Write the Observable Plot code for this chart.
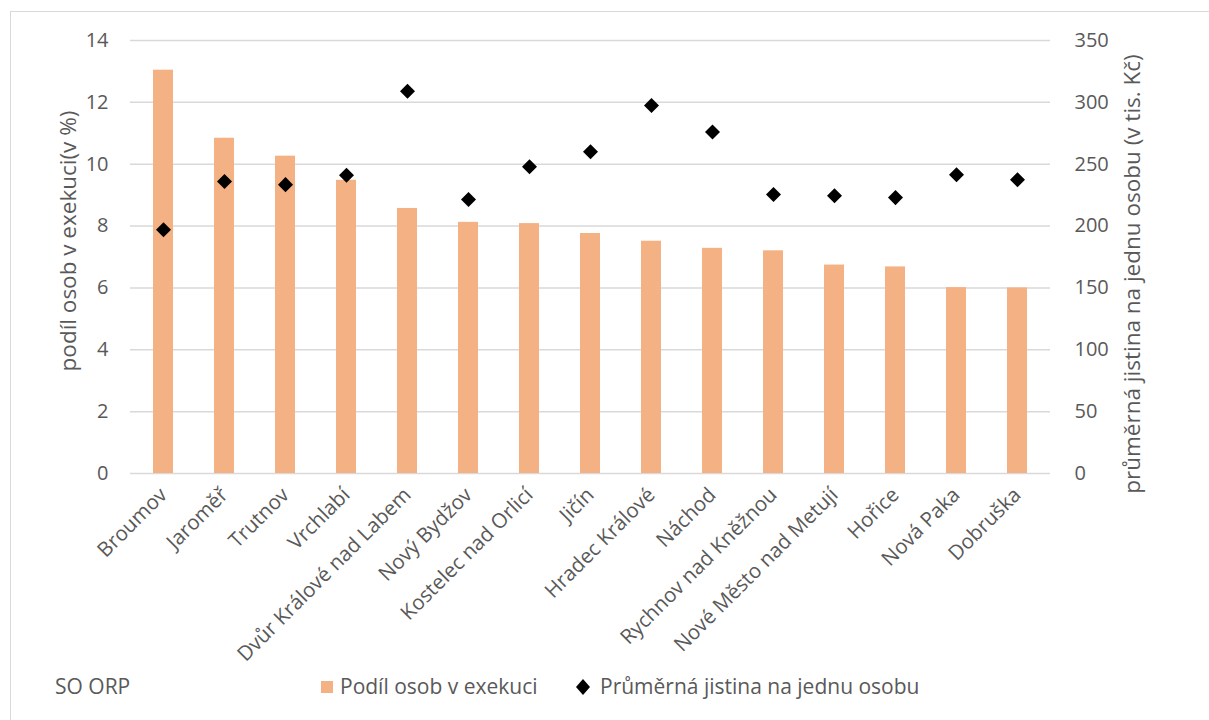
<!DOCTYPE html>
<html>
<head>
<meta charset="utf-8">
<script src="https://cdn.jsdelivr.net/npm/d3@7"></script>
<script src="https://cdn.jsdelivr.net/npm/@observablehq/plot@0.6"></script>
<style>
  html, body { margin: 0; padding: 0; background: #fff; }
  body { width: 1209px; height: 720px; position: relative; overflow: hidden; }
  #border { position: absolute; left: 10px; top: 11px; width: 1220px; height: 720px; border: 1px solid #D9D9D9; box-sizing: border-box; pointer-events: none; }
  #chart { position: absolute; left: 0; top: 0; }
  #below { position: absolute; left: 0; top: 672px; width: 1209px; height: 48px; font-family: "Open Sans", sans-serif; color: #595959; font-size: 21px; }
  .lbl { position: absolute; white-space: nowrap; line-height: 1; }
</style>
</head>
<body>
<div id="chart"></div>
<div id="below">
  <div class="lbl" style="left:55px; top:4px;">SO ORP</div>
  <div class="lbl" style="left:321px; top:9px; width:12px; height:12px; background:#F4B183;"></div>
  <div class="lbl" style="left:340px; top:4px;">Podíl osob v exekuci</div>
  <svg class="lbl" style="left:576px; top:7px;" width="14" height="16"><path d="M7 0 L14 8 L7 16 L0 8 Z" fill="#000"/></svg>
  <div class="lbl" style="left:600px; top:4px;">Průměrná jistina na jednu osobu</div>
</div>
<div id="border"></div>
<script>
const categories = ["Broumov", "Jaroměř", "Trutnov", "Vrchlabí", "Dvůr Králové nad Labem", "Nový Bydžov", "Kostelec nad Orlicí", "Jičín", "Hradec Králové", "Náchod", "Rychnov nad Kněžnou", "Nové Město nad Metují", "Hořice", "Nová Paka", "Dobruška"];
const podil = [13.04, 10.84, 10.26, 9.48, 8.57, 8.12, 8.08, 7.76, 7.51, 7.28, 7.2, 6.74, 6.68, 6.01, 6.0];
const jistina = [197, 236, 233.5, 241, 309, 221.5, 248, 260, 297.5, 276, 225.5, 224.5, 223, 241.5, 237.5];
const leftTicks = [0, 2, 4, 6, 8, 10, 12, 14];
const rightTicks = [0, 50, 100, 150, 200, 250, 300, 350];
const leftTitle = "podíl osob v exekuci(v %)";
const rightTitle = "průměrná jistina na jednu osobu (v tis. Kč)";

const ratio = 350 / 14;
const data = categories.map((c, i) => ({name: c, podil: podil[i], jistina: jistina[i]}));

const font = "'Open Sans', sans-serif";
const grey = "#595959";

const chart = Plot.plot({
  width: 1209,
  height: 672,
  marginLeft: 130,
  marginRight: 159,
  marginTop: 40,
  marginBottom: 199,
  style: { fontFamily: font, fontSize: "20px", color: grey, background: "transparent" },
  x: { domain: categories, paddingInner: 0.68, paddingOuter: 0.34 },
  y: { domain: [0, 14] },
  marks: [
    Plot.gridY(leftTicks, { stroke: "#D9D9D9", strokeOpacity: 1, strokeWidth: 1.5 }),
    Plot.barY(data, { x: "name", y: "podil", fill: "#F4B183" }),
    Plot.dot(data, { x: "name", y: d => d.jistina / ratio, symbol: "square", rotate: 45, r: 6, fill: "#000", stroke: null }),
    Plot.axisY(leftTicks, { anchor: "left", tickSize: 0, tickPadding: 22, label: null, fill: grey, fontSize: 20 }),
    Plot.axisY(rightTicks.map(v => v / ratio), { anchor: "right", tickSize: 0, tickPadding: 24, tickFormat: d => Math.round(d * ratio), label: null, fill: grey, fontSize: 20 }),
    Plot.axisX({ tickRotate: -45, tickSize: 0, tickPadding: 18, label: null, fill: grey, fontSize: 20.5 }),
    Plot.text([leftTitle], { frameAnchor: "left", textAnchor: "middle", lineAnchor: "middle", dx: -62, dy: -16, rotate: -90, fill: grey, fontSize: 22.5, text: d => d }),
    Plot.text([rightTitle], { frameAnchor: "right", textAnchor: "middle", lineAnchor: "middle", dx: 82, dy: 17, rotate: -90, fill: grey, fontSize: 22.5, text: d => d })
  ]
});
document.getElementById("chart").appendChild(chart);
</script>
</body>
</html>
